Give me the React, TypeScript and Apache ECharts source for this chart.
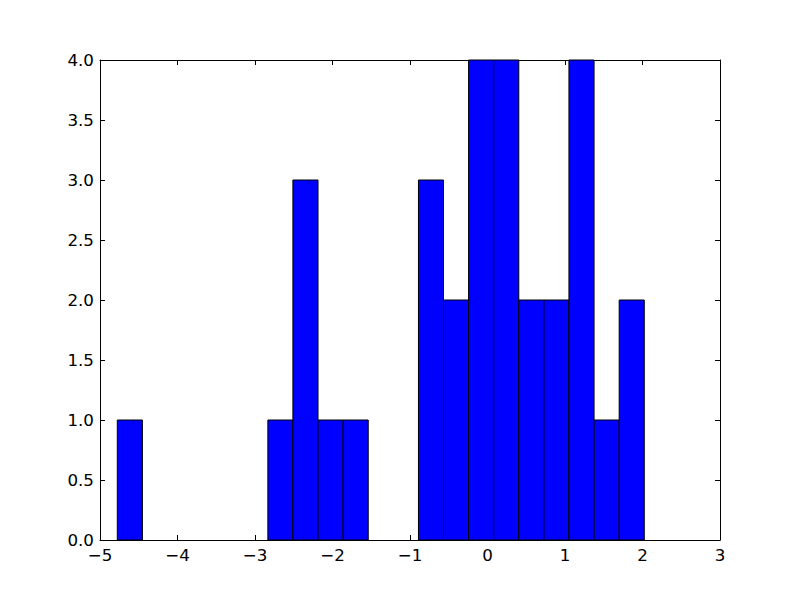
import React, { useEffect, useRef } from "react";
import * as echarts from "echarts";

// Histogram bin edges (data units) and counts
const binEdges = [
  -4.777, -4.453, -4.129, -3.806, -3.482, -3.158, -2.834, -2.511, -2.187, -1.863,
  -1.539, -1.215, -0.891, -0.568, -0.244, 0.08, 0.404, 0.728, 1.051, 1.375, 1.699, 2.023,
];
const counts = [1, 0, 0, 0, 0, 0, 1, 3, 1, 1, 0, 0, 3, 2, 4, 4, 2, 2, 4, 1, 2];

const xMin = -5;
const xMax = 3;
const yMin = 0;
const yMax = 4;

const fmtX = (v: number) => String(v).replace("-", "\u2212");
const fmtY = (v: number) => v.toFixed(1);

export default function App() {
  const ref = useRef<HTMLDivElement>(null);
  useEffect(() => {
    if (!ref.current) return;
    const chart = echarts.init(ref.current, null, { renderer: "svg" });
    const data = counts.map((c, i) => [binEdges[i], binEdges[i + 1], c]);
    const font = "DejaVu Sans";
    const axisLine = { show: true, onZero: false, lineStyle: { color: "#000", width: 1 } };
    const tick = { show: true, inside: true, length: 5, lineStyle: { color: "#000", width: 1 } };
    chart.setOption({
      animation: false,
      backgroundColor: "#fff",
      grid: { left: 100, top: 60, width: 620, height: 480, show: false },
      xAxis: [
        {
          type: "value", min: xMin, max: xMax, interval: 1, position: "bottom",
          axisLine, axisTick: tick, splitLine: { show: false },
          axisLabel: { formatter: fmtX, color: "#000", fontFamily: font, fontSize: 16.7, margin: 6 },
        },
        {
          type: "value", min: xMin, max: xMax, interval: 1, position: "top",
          axisLine, axisTick: tick, splitLine: { show: false }, axisLabel: { show: false },
        },
      ],
      yAxis: [
        {
          type: "value", min: yMin, max: yMax, interval: 0.5, position: "left",
          axisLine, axisTick: tick, splitLine: { show: false },
          axisLabel: { formatter: fmtY, color: "#000", fontFamily: font, fontSize: 16.7, margin: 6 },
        },
        {
          type: "value", min: yMin, max: yMax, interval: 0.5, position: "right",
          axisLine, axisTick: tick, splitLine: { show: false }, axisLabel: { show: false },
        },
      ],
      series: [
        {
          type: "custom",
          xAxisIndex: 0,
          yAxisIndex: 0,
          z: 1,
          data,
          renderItem: (params: any, api: any) => {
            const x0 = api.value(0);
            const x1 = api.value(1);
            const c = api.value(2);
            if (!c) return null;
            const p0 = api.coord([x0, c]);
            const p1 = api.coord([x1, 0]);
            return {
              type: "rect",
              shape: { x: p0[0], y: p0[1], width: p1[0] - p0[0], height: p1[1] - p0[1] },
              style: { fill: "#0000ff", stroke: "#000", lineWidth: 1 },
            };
          },
        },
      ],
    });
    return () => chart.dispose();
  }, []);
  return <div ref={ref} style={{ width: 800, height: 600, margin: -8 }} />;
}
